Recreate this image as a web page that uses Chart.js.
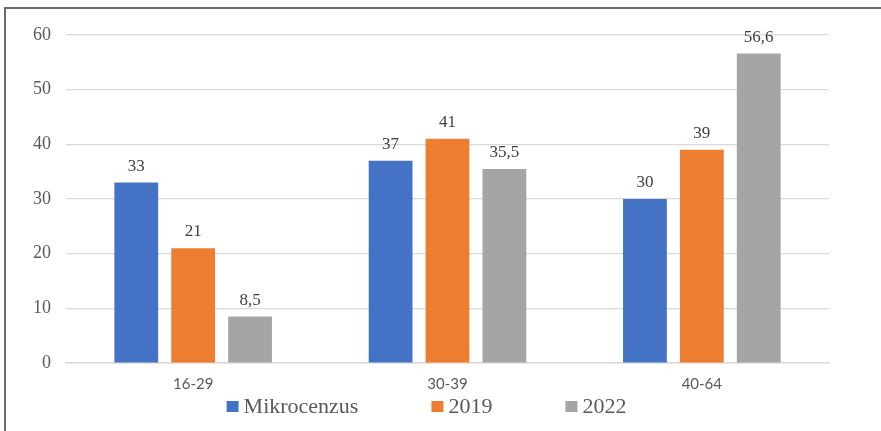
<!DOCTYPE html>
<html>
<head>
<meta charset="utf-8">
<script src="https://cdn.jsdelivr.net/npm/chart.js@4"></script>
<style>
  html, body { margin: 0; padding: 0; background: #fff; }
  #wrap { position: relative; width: 881px; height: 431px; overflow: hidden; }
  #frame { position: absolute; left: 4px; top: 7px; width: 1000px; height: 1000px;
           border-left: 2px solid #6b6b6b; border-top: 2px solid #6b6b6b; pointer-events: none; }
  canvas { position: absolute; left: 0; top: 0; }
</style>
</head>
<body>
<div id="wrap">
  <canvas id="c" width="881" height="431"></canvas>
  <div id="frame"></div>
</div>
<script>
const categories = ["16-29", "30-39", "40-64"];
const mikrocenzus = [33, 37, 30];
const y2019 = [21, 41, 39];
const y2022 = [8.5, 35.5, 56.6];
const seriesNames = ["Mikrocenzus", "2019", "2022"];
const yTicks = [0, 10, 20, 30, 40, 50, 60];

const fmt = v => String(v).replace('.', ',');

const valueLabels = {
  id: 'valueLabels',
  afterDatasetsDraw(chart) {
    const ctx = chart.ctx;
    ctx.save();
    ctx.font = '17px "Liberation Serif", "Times New Roman", serif';
    ctx.fillStyle = '#404040';
    ctx.textAlign = 'center';
    ctx.textBaseline = 'alphabetic';
    chart.data.datasets.forEach((ds, i) => {
      const meta = chart.getDatasetMeta(i);
      meta.data.forEach((bar, j) => {
        ctx.fillText(fmt(ds.data[j]), bar.x, bar.y - 12);
      });
    });
    ctx.restore();
  }
};

const bottomLegend = {
  id: 'bottomLegend',
  afterDraw(chart) {
    const ctx = chart.ctx;
    const area = chart.chartArea;
    ctx.save();
    ctx.font = '22px "Liberation Serif", "Times New Roman", serif';
    ctx.textBaseline = 'middle';
    ctx.textAlign = 'left';
    const box = 12, boxH = 11, gap = 5, spacing = 73;
    const items = chart.data.datasets.map(ds => ({
      text: ds.label, color: ds.backgroundColor, w: ctx.measureText(ds.label).width
    }));
    let total = 0;
    items.forEach((it, i) => { total += box + gap + it.w + (i < items.length - 1 ? spacing : 0); });
    const cx = (area.left + area.right) / 2 - 21;
    let x = cx - total / 2;
    const cy = 406.5;
    items.forEach(it => {
      ctx.fillStyle = it.color;
      ctx.fillRect(x, cy - boxH / 2, box, boxH);
      ctx.fillStyle = '#595959';
      ctx.fillText(it.text, x + box + gap, cy + 1);
      x += box + gap + it.w + spacing;
    });
    ctx.restore();
  }
};

new Chart(document.getElementById('c'), {
  type: 'bar',
  data: {
    labels: categories,
    datasets: [
      { label: seriesNames[0], data: mikrocenzus, backgroundColor: '#4472C4' },
      { label: seriesNames[1], data: y2019, backgroundColor: '#ED7D31' },
      { label: seriesNames[2], data: y2022, backgroundColor: '#A5A5A5' }
    ]
  },
  options: {
    responsive: false,
    animation: false,
    devicePixelRatio: 1,
    layout: { padding: { left: 0, top: 35, right: 52, bottom: 38 } },
    datasets: { bar: { categoryPercentage: 0.671, barPercentage: 0.77 } },
    plugins: {
      legend: { display: false },
      tooltip: { enabled: false }
    },
    scales: {
      x: {
        grid: { display: false, drawTicks: false },
        border: { display: true, color: '#d9d9d9', width: 1.5 },
        ticks: {
          padding: 12,
          color: '#595959',
          font: { family: 'Lato, "Open Sans", sans-serif', size: 15 }
        },
        afterFit(s) { s.height = 30; }
      },
      y: {
        min: 0, max: 60,
        afterBuildTicks(s) { s.ticks = yTicks.map(v => ({ value: v })); },
        grid: { color: '#d9d9d9', lineWidth: 1.2, drawTicks: false },
        border: { display: false },
        ticks: {
          padding: 15,
          color: '#595959',
          font: { family: '"Liberation Serif", "Times New Roman", serif', size: 18 }
        },
        afterFit(s) { s.width = 66; }
      }
    }
  },
  plugins: [valueLabels, bottomLegend]
});
</script>
</body>
</html>
